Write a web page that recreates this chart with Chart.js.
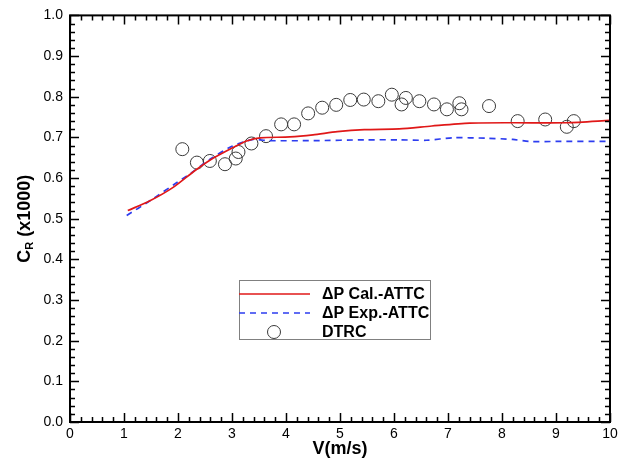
<!DOCTYPE html>
<html>
<head>
<meta charset="utf-8">
<script src="https://cdn.jsdelivr.net/npm/chart.js@4/dist/chart.umd.min.js"></script>
<style>
html,body{margin:0;padding:0;background:#fff;}
canvas{display:block;}
</style>
</head>
<body>
<canvas id="c" width="629" height="461"></canvas>
<script>
// ---- Data ----
const calX = [1.07, 1.48, 1.91, 2.31, 2.59, 3.02, 3.27, 3.52, 4.07, 4.5, 4.95, 5.45, 6.1, 6.7, 7.4, 8.2, 9.2, 10.0];
const calY = [0.520, 0.544, 0.577, 0.618, 0.644, 0.675, 0.691, 0.699, 0.701, 0.706, 0.714, 0.719, 0.721, 0.728, 0.735, 0.736, 0.736, 0.742];

const expX = [1.05, 1.48, 1.98, 2.22, 2.6, 3.0, 3.39, 3.65, 4.5, 5.5, 6.1, 6.6, 7.1, 7.7, 8.2, 8.5, 9.0, 10.0];
const expY = [0.508, 0.544, 0.589, 0.610, 0.647, 0.678, 0.695, 0.692, 0.692, 0.694, 0.694, 0.693, 0.699, 0.698, 0.695, 0.690, 0.690, 0.690];

const dtrcX = [2.08, 2.35, 2.59, 2.87, 3.07, 3.12, 3.36, 3.63, 3.91, 4.15, 4.41, 4.67, 4.93, 5.19, 5.44, 5.71, 5.96, 6.14, 6.22, 6.47, 6.74, 6.98, 7.21, 7.25, 7.76, 8.29, 8.80, 9.20, 9.33];
const dtrcY = [0.671, 0.638, 0.642, 0.634, 0.648, 0.664, 0.685, 0.703, 0.732, 0.732, 0.759, 0.773, 0.780, 0.792, 0.793, 0.789, 0.805, 0.781, 0.797, 0.789, 0.781, 0.769, 0.784, 0.769, 0.777, 0.740, 0.744, 0.726, 0.740];

const seriesLabels = ['\u0394P Cal.-ATTC', '\u0394P Exp.-ATTC', 'DTRC'];
const xTitle = 'V(m/s)';
const yTitleMain = 'C';
const yTitleSub = 'R';
const yTitleRest = ' (x1000)';

const zip = (xs, ys) => xs.map((x, i) => ({x: x, y: ys[i]}));

const FONT = '"Liberation Sans", Arial, Helvetica, sans-serif';

const framePlugin = {
  id: 'frame',
  afterDatasetsDraw(chart) {
    const ctx = chart.ctx;
    const a = chart.chartArea;
    const xs = chart.scales.x, ys = chart.scales.y;
    ctx.save();
    ctx.strokeStyle = '#000';
    // tick marks
    ctx.lineWidth = 1.5;
    for (let i = 0; i <= 50; i++) {
      const v = i * 0.2;
      const p = Math.round(xs.getPixelForValue(v)) + 0.5;
      const len = (i % 5 === 0) ? 9 : 5;
      ctx.beginPath();
      ctx.moveTo(p, a.bottom); ctx.lineTo(p, a.bottom - len);
      ctx.moveTo(p, a.top); ctx.lineTo(p, a.top + len);
      ctx.stroke();
    }
    for (let i = 0; i <= 50; i++) {
      const v = i * 0.02;
      const p = Math.round(ys.getPixelForValue(v)) + 0.5;
      const len = (i % 5 === 0) ? 9 : 5;
      ctx.beginPath();
      ctx.moveTo(a.left, p); ctx.lineTo(a.left + len, p);
      ctx.moveTo(a.right, p); ctx.lineTo(a.right - len, p);
      ctx.stroke();
    }
    // border
    ctx.lineWidth = 2;
    ctx.strokeRect(a.left, a.top, a.right - a.left, a.bottom - a.top);

    // x title
    ctx.fillStyle = '#000';
    ctx.font = 'bold 18px ' + FONT;
    ctx.textAlign = 'center';
    ctx.textBaseline = 'middle';
    ctx.fillText(xTitle, (a.left + a.right) / 2, 449);

    // y title (rotated)
    ctx.save();
    ctx.translate(25, (a.top + a.bottom) / 2);
    ctx.rotate(-Math.PI / 2);
    ctx.textAlign = 'left';
    ctx.textBaseline = 'middle';
    ctx.font = 'bold 18px ' + FONT;
    const wC = ctx.measureText(yTitleMain).width;
    const wRest = ctx.measureText(yTitleRest).width;
    ctx.font = 'bold 11px ' + FONT;
    const wR = ctx.measureText(yTitleSub).width;
    let x0 = -(wC + wR + wRest) / 2;
    ctx.font = 'bold 18px ' + FONT;
    ctx.fillText(yTitleMain, x0, 0);
    ctx.font = 'bold 11px ' + FONT;
    ctx.fillText(yTitleSub, x0 + wC, 5);
    ctx.font = 'bold 18px ' + FONT;
    ctx.fillText(yTitleRest, x0 + wC + wR, 0);
    ctx.restore();

    // legend
    const bx = 239, by = 280, bw = 191, bh = 59;
    ctx.fillStyle = '#fff';
    ctx.fillRect(bx, by, bw, bh);
    ctx.strokeStyle = '#808080';
    ctx.lineWidth = 1;
    ctx.strokeRect(bx + 0.5, by + 0.5, bw, bh);
    const rows = [294, 313, 332];
    const dsets = chart.data.datasets;
    for (let k = 0; k < 3; k++) {
      const ds = dsets[k];
      const yy = rows[k];
      ctx.save();
      if (k < 2) {
        ctx.strokeStyle = ds.borderColor;
        ctx.lineWidth = ds.borderWidth;
        ctx.setLineDash(ds.borderDash || []);
        ctx.beginPath();
        ctx.moveTo(bx, yy); ctx.lineTo(310, yy);
        ctx.stroke();
      } else {
        ctx.strokeStyle = ds.pointBorderColor;
        ctx.lineWidth = ds.pointBorderWidth;
        ctx.beginPath();
        ctx.arc(274, yy, ds.pointRadius, 0, Math.PI * 2);
        ctx.stroke();
      }
      ctx.restore();
      ctx.fillStyle = '#000';
      ctx.font = 'bold 16px ' + FONT;
      ctx.textAlign = 'left';
      ctx.textBaseline = 'middle';
      ctx.fillText(ds.label, 322, yy + 1);
    }
    ctx.restore();
  }
};

new Chart(document.getElementById('c'), {
  type: 'line',
  data: {
    datasets: [
      {
        label: seriesLabels[0],
        data: zip(calX, calY),
        borderColor: '#e01818',
        borderWidth: 1.7,
        pointRadius: 0,
        tension: 0.25,
        fill: false
      },
      {
        label: seriesLabels[1],
        data: zip(expX, expY),
        borderColor: '#2d3df0',
        borderWidth: 1.7,
        borderDash: [6, 5],
        pointRadius: 0,
        tension: 0.25,
        fill: false
      },
      {
        label: seriesLabels[2],
        data: zip(dtrcX, dtrcY),
        showLine: false,
        pointRadius: 6.5,
        pointBorderColor: '#3a3a3a',
        pointBackgroundColor: 'rgba(0,0,0,0)',
        pointBorderWidth: 1,
        borderColor: '#3a3a3a'
      }
    ]
  },
  options: {
    responsive: false,
    animation: false,
    devicePixelRatio: 1,
    layout: {padding: {top: 14, right: 19, left: 0, bottom: 0}},
    plugins: {legend: {display: false}, tooltip: {enabled: false}, title: {display: false}},
    scales: {
      x: {
        type: 'linear', min: 0, max: 10,
        grid: {display: false, drawTicks: false, tickLength: 0},
        border: {display: false},
        ticks: {stepSize: 1, color: '#000', padding: 4, font: {size: 14, family: FONT}, maxRotation: 0, callback: v => String(v)},
        afterFit(s) { s.height = 39; }
      },
      y: {
        type: 'linear', min: 0, max: 1,
        grid: {display: false, drawTicks: false, tickLength: 0},
        border: {display: false},
        ticks: {stepSize: 0.1, color: '#000', padding: 7, font: {size: 14, family: FONT}, callback: v => v.toFixed(1)},
        afterFit(s) { s.width = 70; }
      }
    }
  },
  plugins: [framePlugin]
});
</script>
</body>
</html>
